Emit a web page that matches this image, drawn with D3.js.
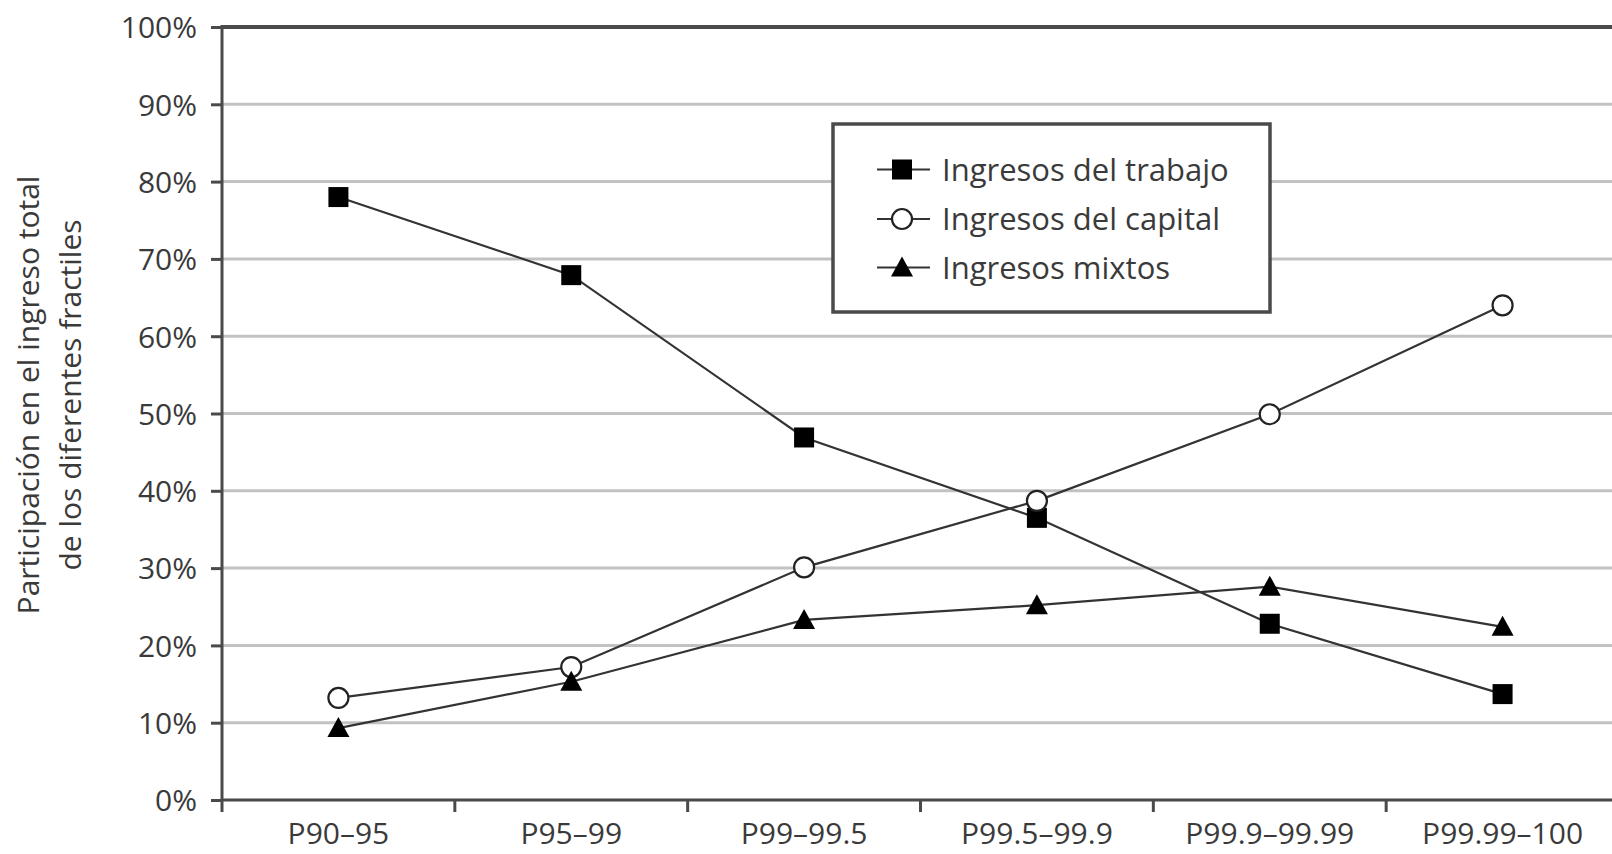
<!DOCTYPE html>
<html><head><meta charset="utf-8">
<script src="https://cdn.jsdelivr.net/npm/d3@7"></script>
<style>
html,body{margin:0;padding:0;background:#fff;}
svg{display:block;}
text{font-family:"Open Sans",sans-serif;fill:#3a3a3a;}
</style></head>
<body>
<svg id="chart" width="1612" height="854"></svg>
<script>
const categories = ["P90–95","P95–99","P99–99.5","P99.5–99.9","P99.9–99.99","P99.99–100"];
const trabajo = [78.0, 67.9, 46.9, 36.5, 22.8, 13.7];
const capital = [13.2, 17.2, 30.1, 38.7, 49.9, 64.0];
const mixtos  = [9.3, 15.3, 23.3, 25.2, 27.6, 22.4];
const yTicks = [0,10,20,30,40,50,60,70,80,90,100];
const seriesNames = ["Ingresos del trabajo","Ingresos del capital","Ingresos mixtos"];
const yTitle = ["Participación en el ingreso total","de los diferentes fractiles"];

const svg = d3.select("#chart");
const mLeft = 222, mRight = 1619, mTop = 27, mBottom = 800;

const x = d3.scaleBand().domain(categories).range([mLeft, mRight]).padding(0);
const y = d3.scaleLinear().domain([0,100]).range([mBottom, mTop]);

// gridlines
svg.append("g").selectAll("line").data(yTicks.filter(d=>d>0 && d<100)).join("line")
  .attr("x1", mLeft).attr("x2", 1612)
  .attr("y1", d=>y(d)).attr("y2", d=>y(d))
  .attr("stroke", "#c2c2c2").attr("stroke-width", 3);
// top line
svg.append("line").attr("x1", mLeft).attr("x2", 1612).attr("y1", y(100)).attr("y2", y(100))
  .attr("stroke", "#4a4a4a").attr("stroke-width", 4);

// y axis
const yAxis = d3.axisLeft(y).tickValues(yTicks).tickFormat(d=>d+"%").tickSize(11).tickPadding(14);
const gy = svg.append("g").attr("transform", `translate(${mLeft},0)`).call(yAxis);
gy.select(".domain").remove();
gy.selectAll(".tick line").attr("stroke","#4a4a4a").attr("stroke-width",3);
gy.selectAll(".tick text").attr("font-size",30).attr("font-family","Open Sans").attr("fill","#3a3a3a").attr("dy","0.36em");
svg.append("line").attr("x1", mLeft).attr("x2", mLeft).attr("y1", mTop-2).attr("y2", mBottom+12)
  .attr("stroke","#4a4a4a").attr("stroke-width",3);

// x axis
const xAxis = d3.axisBottom(x).tickSize(0).tickPadding(0);
const gx = svg.append("g").attr("transform", `translate(0,${mBottom})`).call(xAxis);
gx.select(".domain").remove();
gx.selectAll(".tick text").attr("font-size",30).attr("font-family","Open Sans").attr("fill","#3a3a3a").attr("y",44).attr("dy",0);
svg.append("line").attr("x1", mLeft).attr("x2", 1612).attr("y1", mBottom).attr("y2", mBottom)
  .attr("stroke","#4a4a4a").attr("stroke-width",3);
svg.append("g").selectAll("line").data(categories.slice(1)).join("line")
  .attr("x1", d=>x(d)).attr("x2", d=>x(d)).attr("y1", mBottom).attr("y2", mBottom+12)
  .attr("stroke","#4a4a4a").attr("stroke-width",3);

// y title
yTitle.forEach((t,i)=>{
  svg.append("text").attr("transform", `translate(${39+i*42},${395}) rotate(-90)`)
    .attr("text-anchor","middle").attr("font-size",30).text(t);
});

const cx = c => x(c) + x.bandwidth()/2;
const line = d3.line().x((d,i)=>cx(categories[i])).y(d=>y(d));
const seriesData = [trabajo, capital, mixtos];
seriesData.forEach(s=>{
  svg.append("path").datum(s).attr("d", line).attr("fill","none").attr("stroke","#333").attr("stroke-width",2.2);
});

function drawMarker(g, type, px, py){
  if(type===0){
    g.append("rect").attr("x",px-10).attr("y",py-10).attr("width",20).attr("height",20).attr("fill","#000");
  } else if(type===1){
    g.append("circle").attr("cx",px).attr("cy",py).attr("r",10).attr("fill","#fff").attr("stroke","#222").attr("stroke-width",2.2);
  } else {
    g.append("path").attr("d",`M${px},${py-11}L${px+11},${py+9}L${px-11},${py+9}Z`).attr("fill","#000");
  }
}
const gm = svg.append("g");
seriesData.forEach((s,k)=>{
  s.forEach((v,i)=>drawMarker(gm, k, cx(categories[i]), y(v)));
});

// legend
const lg = svg.append("g");
lg.append("rect").attr("x",833).attr("y",124).attr("width",437).attr("height",188)
  .attr("fill","#fff").attr("stroke","#4a4a4a").attr("stroke-width",3.5);
const rowsY = [169.5, 219, 267.5];
seriesNames.forEach((n,k)=>{
  const ry = rowsY[k];
  lg.append("line").attr("x1",877).attr("x2",930).attr("y1",ry).attr("y2",ry).attr("stroke","#333").attr("stroke-width",2.2);
  drawMarker(lg, k, 902, ry);
  lg.append("text").attr("x",942).attr("y",ry+11).attr("font-size",31).text(n);
});
</script>
</body></html>
